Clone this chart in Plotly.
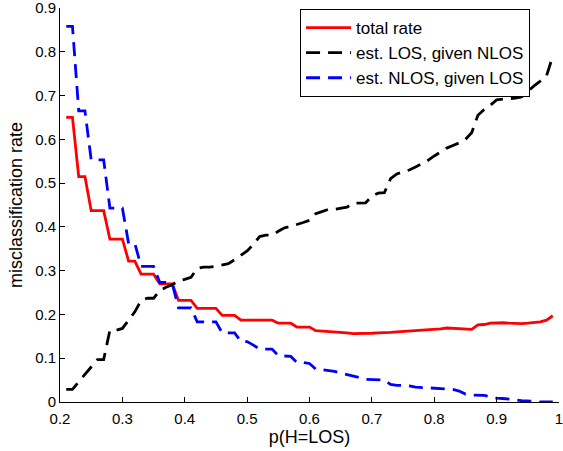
import plotly.graph_objects as go

p_los = [round(0.21 + 0.01 * i, 2) for i in range(79)]

total_rate = [
    0.65, 0.65, 0.515, 0.515, 0.437, 0.437, 0.437, 0.372, 0.372, 0.372,
    0.322, 0.322, 0.292, 0.292, 0.292, 0.27, 0.27, 0.27, 0.232, 0.232,
    0.232, 0.214, 0.214, 0.214, 0.214, 0.198, 0.198, 0.198, 0.187, 0.187,
    0.187, 0.187, 0.187, 0.187, 0.18, 0.18, 0.18, 0.171, 0.171, 0.171,
    0.163, 0.162, 0.162, 0.161, 0.159, 0.158, 0.156, 0.156, 0.156, 0.157,
    0.158, 0.158, 0.159, 0.16, 0.161, 0.162, 0.162, 0.164, 0.165, 0.166,
    0.167, 0.169, 0.168, 0.167, 0.166, 0.166, 0.176, 0.177, 0.18, 0.181,
    0.181, 0.18, 0.179, 0.179, 0.18, 0.181, 0.183, 0.187, 0.197,
]

los_given_nlos = [
    0.029, 0.029, 0.046, 0.063, 0.08, 0.097, 0.097, 0.164, 0.164, 0.168,
    0.187, 0.206, 0.232, 0.237, 0.237, 0.255, 0.262, 0.268, 0.277, 0.28,
    0.285, 0.305, 0.308, 0.308, 0.31, 0.313, 0.316, 0.325, 0.335, 0.345,
    0.36, 0.378, 0.381, 0.381, 0.39, 0.398, 0.401, 0.405, 0.41, 0.415,
    0.43, 0.435, 0.44, 0.44, 0.442, 0.445, 0.454, 0.454, 0.455, 0.47,
    0.477, 0.478, 0.51, 0.521, 0.525, 0.53, 0.537, 0.545, 0.552, 0.562,
    0.572, 0.58, 0.586, 0.592, 0.6, 0.615, 0.655, 0.668, 0.678, 0.69,
    0.692, 0.693, 0.694, 0.697, 0.71, 0.722, 0.733, 0.745, 0.79,
]

nlos_given_los = [
    0.858, 0.858, 0.665, 0.665, 0.553, 0.553, 0.553, 0.443, 0.443, 0.443,
    0.362, 0.362, 0.31, 0.31, 0.31, 0.273, 0.273, 0.27, 0.215, 0.215,
    0.215, 0.183, 0.183, 0.183, 0.183, 0.158, 0.158, 0.158, 0.138, 0.138,
    0.13, 0.121, 0.121, 0.121, 0.106, 0.105, 0.104, 0.09, 0.09, 0.088,
    0.075, 0.074, 0.072, 0.07, 0.066, 0.063, 0.06, 0.056, 0.052, 0.051,
    0.051, 0.05, 0.04, 0.038, 0.038, 0.037, 0.034, 0.033, 0.033, 0.032,
    0.03, 0.03, 0.029, 0.025, 0.018, 0.016, 0.016, 0.015, 0.012, 0.009,
    0.008, 0.007, 0.005, 0.003, 0.003, 0.002, 0.0, 0.0, 0.0,
]

x_ticks = [0.2, 0.3, 0.4, 0.5, 0.6, 0.7, 0.8, 0.9, 1.0]
x_tick_labels = ["0.2", "0.3", "0.4", "0.5", "0.6", "0.7", "0.8", "0.9", "1"]
y_ticks = [0, 0.1, 0.2, 0.3, 0.4, 0.5, 0.6, 0.7, 0.8, 0.9]
y_tick_labels = ["0", "0.1", "0.2", "0.3", "0.4", "0.5", "0.6", "0.7", "0.8", "0.9"]

FONT = "Liberation Sans, Arial, Helvetica, sans-serif"
DASH = "14px,8px"

fig = go.Figure()
fig.add_trace(go.Scatter(x=p_los, y=total_rate, mode="lines", name="total rate",
                         line=dict(color="#ff0000", width=2.8)))
fig.add_trace(go.Scatter(x=p_los, y=los_given_nlos, mode="lines", name="est. LOS, given NLOS",
                         line=dict(color="#000000", width=2.8, dash=DASH)))
fig.add_trace(go.Scatter(x=p_los, y=nlos_given_los, mode="lines", name="est. NLOS, given LOS",
                         line=dict(color="#0000ff", width=2.8, dash=DASH)))

fig.update_layout(
    width=563, height=451,
    margin=dict(l=60, r=4, t=8, b=49, autoexpand=False),
    paper_bgcolor="white", plot_bgcolor="white",
    font=dict(family=FONT, size=15, color="#000000"),
    showlegend=True,
    legend=dict(x=0.942, y=0.9975, xanchor="right", yanchor="top",
                bgcolor="white", bordercolor="#000000", borderwidth=1,
                font=dict(family=FONT, size=17, color="#000000"),
                itemwidth=45, tracegroupgap=0),
    xaxis=dict(range=[0.2, 1.0], tickvals=x_ticks, ticktext=x_tick_labels,
               showgrid=False, zeroline=False, showline=True, linecolor="#000000",
               linewidth=1, ticks="inside", ticklen=5, tickcolor="#000000",
               ticklabeloverflow="allow", automargin=False, ticklabelstandoff=3,
               tickfont=dict(family=FONT, size=15, color="#000000"),
               title=dict(text="p(H=LOS)", font=dict(family=FONT, size=18), standoff=2)),
    yaxis=dict(range=[0, 0.9], tickvals=y_ticks, ticktext=y_tick_labels,
               showgrid=False, zeroline=False, showline=True, linecolor="#000000",
               linewidth=1, ticks="inside", ticklen=5, tickcolor="#000000",
               ticklabeloverflow="allow", automargin=False,
               tickfont=dict(family=FONT, size=15, color="#000000"),
               title=dict(text="misclassification rate", font=dict(family=FONT, size=18), standoff=7)),
)

fig.write_html("out.html", config={"displayModeBar": False},
               post_script="document.body.style.margin='0';")
